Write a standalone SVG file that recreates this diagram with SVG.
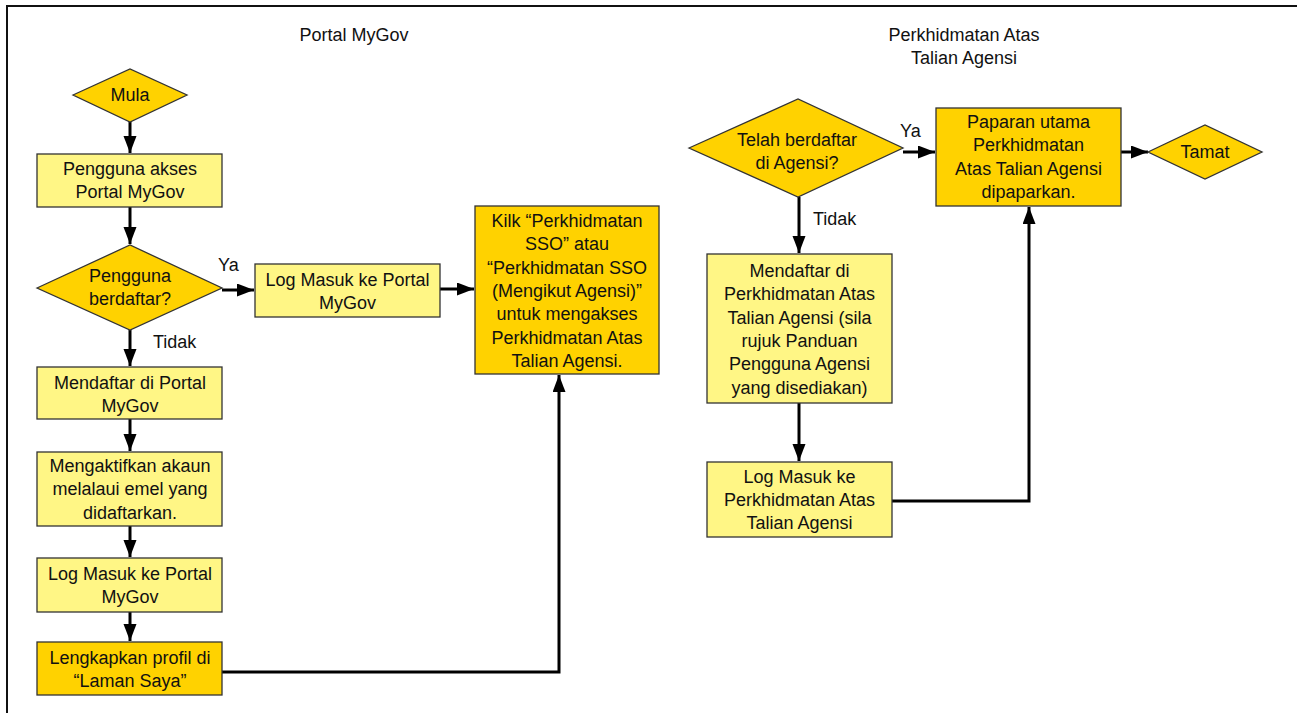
<svg xmlns="http://www.w3.org/2000/svg" width="1297" height="713" viewBox="0 0 1297 713">
<style>
text{font-family:"Liberation Sans",Arial,sans-serif;font-size:18px;fill:#111;text-anchor:middle}
.h{font-size:18px}
.lbl{text-anchor:start}
.lt{fill:#FFF685;stroke:#333;stroke-width:1.3}
.dk{fill:#FFD200;stroke:#333;stroke-width:1.3}
.c{fill:none;stroke:#000;stroke-width:3}
</style>
<defs>
<marker id="ah" markerUnits="userSpaceOnUse" markerWidth="18" markerHeight="14" refX="17" refY="6.5" orient="auto">
<path d="M0,0 L17,6.5 L0,13 z" fill="#000"/>
</marker>
</defs>
<rect width="1297" height="713" fill="#fff"/>
<path d="M7,713 V6 H1297" fill="none" stroke="#111" stroke-width="2"/>
<text class="h" x="354" y="41">Portal MyGov</text>
<text class="h" x="964" y="41">Perkhidmatan Atas</text>
<text class="h" x="964" y="64">Talian Agensi</text>

<g id="connectors">
<path class="c" d="M130,122 V153" marker-end="url(#ah)"/>
<path class="c" d="M130,207 V244" marker-end="url(#ah)"/>
<path class="c" d="M222,290 H254" marker-end="url(#ah)"/>
<path class="c" d="M130,330 V366" marker-end="url(#ah)"/>
<path class="c" d="M130,419 V451" marker-end="url(#ah)"/>
<path class="c" d="M130,526 V557" marker-end="url(#ah)"/>
<path class="c" d="M130,612 V641" marker-end="url(#ah)"/>
<path class="c" d="M440,289 H474" marker-end="url(#ah)"/>
<path class="c" d="M222,672 H559 V375" marker-end="url(#ah)"/>
<path class="c" d="M903,152 H935" marker-end="url(#ah)"/>
<path class="c" d="M799,197 V253" marker-end="url(#ah)"/>
<path class="c" d="M799,403 V461" marker-end="url(#ah)"/>
<path class="c" d="M892,501 H1029 V207" marker-end="url(#ah)"/>
<path class="c" d="M1121,152 H1148" marker-end="url(#ah)"/>
<text class="lbl" x="218" y="271">Ya</text>
<text class="lbl" x="153" y="348">Tidak</text>
<text class="lbl" x="900" y="137">Ya</text>
<text class="lbl" x="813" y="225">Tidak</text>
</g>

<g id="mula">
<polygon class="dk" points="73,95 130,69 187,95 130,122"/>
<text x="130" y="101">Mula</text>
</g>
<g id="akses">
<rect class="lt" x="37" y="154" width="185" height="53"/>
<text x="130" y="175">Pengguna akses</text>
<text x="130" y="198">Portal MyGov</text>
</g>
<g id="berdaftar">
<polygon class="dk" points="37,288 130,245 222,288 130,330"/>
<text x="130" y="282">Pengguna</text>
<text x="130" y="305">berdaftar?</text>
</g>
<g id="login1">
<rect class="lt" x="255" y="264" width="185" height="53"/>
<text x="347.5" y="285.5">Log Masuk ke Portal</text>
<text x="347.5" y="308.5">MyGov</text>
</g>
<g id="daftar">
<rect class="lt" x="37" y="367" width="185" height="52"/>
<text x="130" y="388.5">Mendaftar di Portal</text>
<text x="130" y="411.5">MyGov</text>
</g>
<g id="aktif">
<rect class="lt" x="37" y="452" width="185" height="74"/>
<text x="130" y="472">Mengaktifkan akaun</text>
<text x="130" y="495.3">melalaui emel yang</text>
<text x="130" y="518.6">didaftarkan.</text>
</g>
<g id="login2">
<rect class="lt" x="37" y="558" width="185" height="54"/>
<text x="130" y="580">Log Masuk ke Portal</text>
<text x="130" y="603">MyGov</text>
</g>
<g id="lengkap">
<rect class="dk" x="37" y="642" width="185" height="53"/>
<text x="130" y="663.5">Lengkapkan profil di</text>
<text x="130" y="686.5">“Laman Saya”</text>
</g>
<g id="kilk">
<rect class="dk" x="475" y="206" width="184" height="168"/>
<text x="567" y="227">Kilk “Perkhidmatan</text>
<text x="567" y="250.3">SSO” atau</text>
<text x="567" y="273.6">“Perkhidmatan SSO</text>
<text x="567" y="296.9">(Mengikut Agensi)”</text>
<text x="567" y="320.2">untuk mengakses</text>
<text x="567" y="343.5">Perkhidmatan Atas</text>
<text x="567" y="366.8">Talian Agensi.</text>
</g>
<g id="telah">
<polygon class="dk" points="689,148 798,99 903,148 798,197"/>
<text x="797" y="145.5">Telah berdaftar</text>
<text x="797" y="168.5">di Agensi?</text>
</g>
<g id="paparan">
<rect class="dk" x="936" y="108" width="185" height="98"/>
<text x="1028.5" y="128">Paparan utama</text>
<text x="1028.5" y="151.3">Perkhidmatan</text>
<text x="1028.5" y="174.6">Atas Talian Agensi</text>
<text x="1028.5" y="197.9">dipaparkan.</text>
</g>
<g id="tamat">
<polygon class="dk" points="1148,152 1205,125 1262,152 1205,179"/>
<text x="1205" y="158">Tamat</text>
</g>
<g id="daftar-agensi">
<rect class="lt" x="707" y="254" width="185" height="149"/>
<text x="799.5" y="277">Mendaftar di</text>
<text x="799.5" y="300.3">Perkhidmatan Atas</text>
<text x="799.5" y="323.6">Talian Agensi (sila</text>
<text x="799.5" y="346.9">rujuk Panduan</text>
<text x="799.5" y="370.2">Pengguna Agensi</text>
<text x="799.5" y="393.5">yang disediakan)</text>
</g>
<g id="login-agensi">
<rect class="lt" x="707" y="462" width="185" height="75"/>
<text x="799.5" y="482.5">Log Masuk ke</text>
<text x="799.5" y="505.8">Perkhidmatan Atas</text>
<text x="799.5" y="529.1">Talian Agensi</text>
</g>
</svg>
